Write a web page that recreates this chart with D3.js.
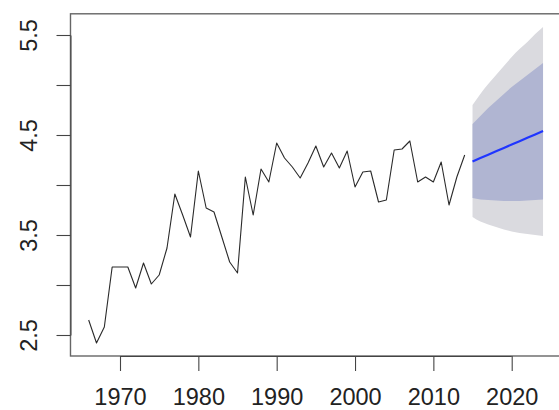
<!DOCTYPE html>
<html>
<head>
<meta charset="utf-8">
<script src="https://cdn.jsdelivr.net/npm/d3@7"></script>
<style>
  html, body { margin: 0; padding: 0; background: #fff; }
  svg { display: block; }
  text { font-family: "Liberation Sans", Arial, sans-serif; fill: #222; }
</style>
</head>
<body>
<svg id="chart" width="559" height="410"></svg>
<script>
// Observed annual series
const years = [1966,1967,1968,1969,1970,1971,1972,1973,1974,1975,1976,1977,1978,1979,1980,1981,1982,1983,1984,1985,1986,1987,1988,1989,1990,1991,1992,1993,1994,1995,1996,1997,1998,1999,2000,2001,2002,2003,2004,2005,2006,2007,2008,2009,2010,2011,2012,2013,2014];
const values = [2.65,2.42,2.58,3.18,3.18,3.18,2.97,3.22,3.01,3.10,3.37,3.91,3.70,3.48,4.14,3.77,3.73,3.48,3.23,3.12,4.08,3.70,4.16,4.03,4.42,4.27,4.18,4.07,4.22,4.39,4.18,4.32,4.17,4.34,3.98,4.13,4.14,3.83,3.85,4.35,4.36,4.44,4.03,4.08,4.03,4.23,3.80,4.08,4.30];

// Forecast
const fcYears = [2015,2016,2017,2018,2019,2020,2021,2022,2023,2024];
const fcMean  = [4.235,4.269,4.303,4.337,4.371,4.405,4.438,4.472,4.506,4.540];
const lo80    = [3.87,3.855,3.85,3.845,3.84,3.84,3.84,3.845,3.85,3.855];
const hi80    = [4.61,4.69,4.77,4.84,4.91,4.98,5.04,5.10,5.16,5.22];
const lo95    = [3.68,3.635,3.605,3.58,3.555,3.535,3.52,3.51,3.50,3.49];
const hi95    = [4.80,4.91,5.01,5.10,5.19,5.28,5.36,5.43,5.51,5.58];

const xTicks = [1970,1980,1990,2000,2010,2020];
const yTicks = [2.5,3.0,3.5,4.0,4.5,5.0,5.5];
const yTickLabels = ["2.5","","3.5","","4.5","","5.5"];

const svg = d3.select("#chart");
const x = d3.scaleLinear().domain([1970, 2020]).range([120, 511.7]);
const y = d3.scaleLinear().domain([2.5, 5.5]).range([335, 35]);

const boxLeft = x(1963.68), boxRight = x(2026.32);
const boxTop = y(5.712), boxBottom = y(2.29);

const fc = fcYears.map((yr, i) => ({yr, m: fcMean[i], l80: lo80[i], h80: hi80[i], l95: lo95[i], h95: hi95[i]}));

// 95% band
svg.append("path").datum(fc)
  .attr("d", d3.area().curve(d3.curveMonotoneX).x(d => x(d.yr)).y0(d => y(d.l95)).y1(d => y(d.h95)))
  .attr("fill", "#dadadf");
// 80% band
svg.append("path").datum(fc)
  .attr("d", d3.area().curve(d3.curveMonotoneX).x(d => x(d.yr)).y0(d => y(d.l80)).y1(d => y(d.h80)))
  .attr("fill", "#b0b5d2");
// forecast mean
svg.append("path").datum(fc)
  .attr("d", d3.line().x(d => x(d.yr)).y(d => y(d.m)))
  .attr("fill", "none").attr("stroke", "#1f35ff").attr("stroke-width", 2.2);

// observed series
const obs = years.map((yr, i) => ({yr, v: values[i]}));
svg.append("path").datum(obs)
  .attr("d", d3.line().x(d => x(d.yr)).y(d => y(d.v)))
  .attr("fill", "none").attr("stroke", "#2a2a2a").attr("stroke-width", 1.1)
  .attr("stroke-linejoin", "round");

// box
svg.append("rect")
  .attr("x", boxLeft).attr("y", boxTop)
  .attr("width", boxRight - boxLeft).attr("height", boxBottom - boxTop)
  .attr("fill", "none").attr("stroke", "#666").attr("stroke-width", 1.4);

// x axis
const xAxis = d3.axisBottom(x).tickValues(xTicks).tickFormat(d3.format("d"))
  .tickSizeInner(15).tickSizeOuter(0);
const gx = svg.append("g").attr("transform", `translate(0,${boxBottom})`).call(xAxis);
gx.select(".domain").attr("d", `M${x(1970)},0.5H${x(2020)}`).attr("stroke", "#444");
gx.selectAll(".tick line").attr("stroke", "#444").attr("stroke-width", 1.1);
gx.selectAll(".tick text").attr("font-size", 23.5).attr("fill", "#222")
  .attr("dy", null).attr("y", 48.5);

// y axis
const yAxis = d3.axisLeft(y).tickValues(yTicks).tickFormat((d, i) => yTickLabels[i])
  .tickSizeInner(14).tickSizeOuter(0);
const gy = svg.append("g").attr("transform", `translate(${boxLeft},0)`).call(yAxis);
gy.select(".domain").attr("stroke", "#444");
gy.selectAll(".tick line").attr("stroke", "#444").attr("stroke-width", 1.1);
gy.selectAll(".tick text")
  .attr("font-size", 23.5).attr("fill", "#222")
  .attr("x", null).attr("dy", null)
  .attr("text-anchor", "middle")
  .attr("transform", `translate(${37 - boxLeft},0) rotate(-90)`);
</script>
</body>
</html>
